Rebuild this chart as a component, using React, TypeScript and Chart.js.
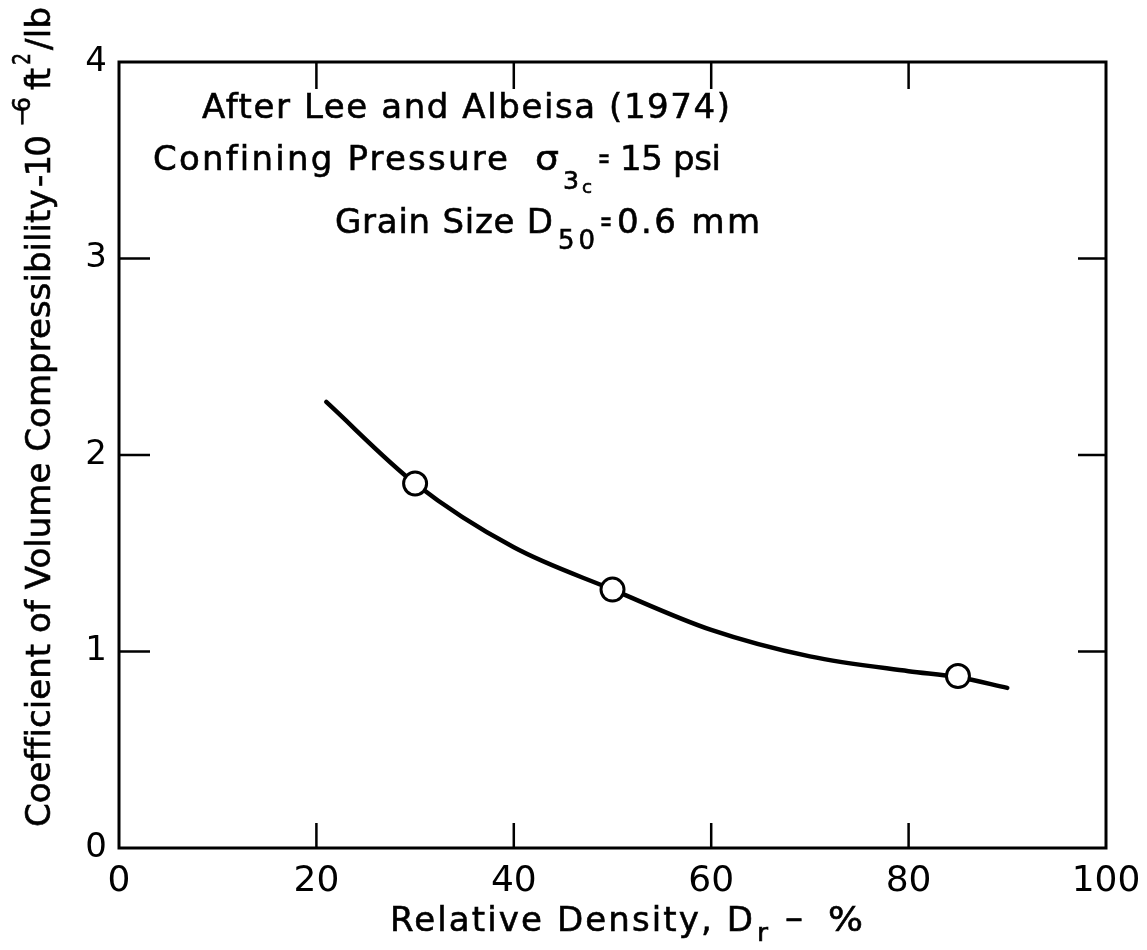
import React, { useEffect, useRef } from "react";
import { Chart, registerables } from "chart.js";

Chart.register(...registerables);

// ---- data ----
const curveX = [21, 30, 40, 50, 60, 70, 80, 85, 90];
const curveY = [2.27, 1.855, 1.53, 1.315, 1.11, 0.975, 0.9, 0.87, 0.815];
const pointX = [30, 50, 85];
const pointY = [1.855, 1.315, 0.875];
const xTickValues = [0, 20, 40, 60, 80, 100];
const yTickValues = [0, 1, 2, 3, 4];
const xInnerTicks = [20, 40, 60, 80];
const yInnerTicks = [1, 2, 3];

const FONT = '"DejaVu Sans", sans-serif';

type Seg = { t: string; x: number; y: number; size: number; w: number };

function drawFit(ctx: CanvasRenderingContext2D, s: Seg) {
  ctx.font = `${s.size}px ${FONT}`;
  (ctx as any).letterSpacing = "0px";
  const chars = Array.from(s.t).length;
  const w0 = ctx.measureText(s.t).width;
  ctx.lineWidth = 0.6;
  ctx.strokeStyle = "#000";
  if (chars > 1) {
    const ls = (s.w - w0) / (chars - 1);
    (ctx as any).letterSpacing = `${ls}px`;
    ctx.fillText(s.t, s.x, s.y);
    ctx.strokeText(s.t, s.x, s.y);
    (ctx as any).letterSpacing = "0px";
  } else {
    ctx.save();
    ctx.translate(s.x, s.y);
    ctx.scale(s.w / w0, 1);
    ctx.fillText(s.t, 0, 0);
    ctx.strokeText(s.t, 0, 0);
    ctx.restore();
  }
}

const annotations: Seg[] = [
  { t: "After Lee and Albeisa (1974)", x: 202, y: 118, size: 34, w: 528 },
  { t: "Confining Pressure", x: 153, y: 170, size: 34, w: 355 },
  { t: "σ", x: 535, y: 170, size: 34, w: 24 },
  { t: "3", x: 563, y: 189, size: 24, w: 16 },
  { t: "c", x: 582, y: 193, size: 18, w: 10 },
  { t: "=", x: 598, y: 168, size: 30, w: 12 },
  { t: "15 psi", x: 620, y: 170, size: 34, w: 101 },
  { t: "Grain Size D", x: 335, y: 233, size: 34, w: 218 },
  { t: "50", x: 558, y: 249, size: 26, w: 37 },
  { t: "=", x: 600, y: 231, size: 30, w: 12 },
  { t: "0.6 mm", x: 617, y: 233, size: 34, w: 143 },
];

const xTitle: Seg[] = [
  { t: "Relative Density, D", x: 390, y: 931, size: 34, w: 363 },
  { t: "r", x: 757, y: 941, size: 24, w: 11 },
  { t: "–", x: 785, y: 929, size: 34, w: 18 },
  { t: "%", x: 828, y: 931, size: 34, w: 35 },
];

// rotated frame: u along the text, baseline at v = 0
const yTitle: Seg[] = [
  { t: "Coefficient of Volume Compressibility", x: 0, y: 0, size: 34, w: 637 },
  { t: "-10", x: 640, y: 0, size: 34, w: 52 },
  { t: "−6", x: 700, y: -20, size: 24, w: 30 },
  { t: "ft", x: 737, y: 0, size: 34, w: 22 },
  { t: "2", x: 762, y: -20, size: 24, w: 12 },
  { t: "/lb", x: 777, y: 0, size: 34, w: 43 },
];

const framePlugin = {
  id: "frame",
  afterDatasetsDraw(chart: any) {
    const { ctx, chartArea: a, scales } = chart;
    const xs = scales.x;
    const ys = scales.y;
    ctx.save();
    ctx.strokeStyle = "#000";
    ctx.lineCap = "butt";
    ctx.lineWidth = 3;
    ctx.strokeRect(a.left, a.top, a.right - a.left, a.bottom - a.top);
    ctx.lineWidth = 2.5;
    ctx.beginPath();
    for (const v of xInnerTicks) {
      const px = xs.getPixelForValue(v);
      ctx.moveTo(px, a.bottom);
      ctx.lineTo(px, a.bottom - 25);
      ctx.moveTo(px, a.top);
      ctx.lineTo(px, a.top + 27);
    }
    for (const v of yInnerTicks) {
      const py = ys.getPixelForValue(v);
      ctx.moveTo(a.left, py);
      ctx.lineTo(a.left + 31, py);
      ctx.moveTo(a.right, py);
      ctx.lineTo(a.right - 28, py);
    }
    ctx.stroke();
    ctx.restore();
  },
  afterDraw(chart: any) {
    const { ctx } = chart;
    ctx.save();
    ctx.fillStyle = "#000";
    ctx.textAlign = "left";
    ctx.textBaseline = "alphabetic";
    for (const s of annotations) drawFit(ctx, s);
    for (const s of xTitle) drawFit(ctx, s);
    ctx.translate(50, 827);
    ctx.rotate(-Math.PI / 2);
    for (const s of yTitle) drawFit(ctx, s);
    ctx.restore();
  },
};

export default function App() {
  const ref = useRef<HTMLCanvasElement>(null);
  useEffect(() => {
    if (!ref.current) return;
    const chart = new Chart(ref.current, {
      type: "scatter",
      data: {
        datasets: [
          {
            label: "measured",
            data: pointX.map((x, i) => ({ x, y: pointY[i] })),
            pointRadius: 11.5,
            pointBorderWidth: 3,
            pointBackgroundColor: "#fff",
            pointBorderColor: "#000",
            showLine: false,
            order: 0,
          },
          {
            label: "curve",
            data: curveX.map((x, i) => ({ x, y: curveY[i] })),
            showLine: true,
            pointRadius: 0,
            borderColor: "#000",
            borderWidth: 4.5,
            borderCapStyle: "round",
            cubicInterpolationMode: "monotone",
            order: 1,
          },
        ],
      },
      plugins: [framePlugin],
      options: {
        animation: false,
        responsive: true,
        maintainAspectRatio: false,
        layout: { padding: { top: 62, right: 41, left: 0, bottom: 0 } },
        plugins: {
          legend: { display: false },
          tooltip: { enabled: false },
        },
        scales: {
          x: {
            type: "linear",
            min: 0,
            max: 100,
            afterBuildTicks: (s: any) => {
              s.ticks = xTickValues.map((v) => ({ value: v }));
            },
            afterFit: (s: any) => {
              s.height = 102;
              s.paddingLeft = 0;
              s.paddingRight = 0;
            },
            grid: { display: false, drawTicks: false },
            border: { display: false },
            ticks: {
              padding: 12,
              color: "#000",
              font: { family: FONT, size: 36 },
              maxRotation: 0,
              autoSkip: false,
            },
          },
          y: {
            type: "linear",
            min: 0,
            max: 4,
            afterBuildTicks: (s: any) => {
              s.ticks = yTickValues.map((v) => ({ value: v }));
            },
            afterFit: (s: any) => {
              s.width = 119;
              s.paddingTop = 0;
              s.paddingBottom = 0;
            },
            grid: { display: false, drawTicks: false },
            border: { display: false },
            ticks: {
              padding: 12,
              color: "#000",
              font: { family: FONT, size: 34 },
              autoSkip: false,
            },
          },
        },
      },
    } as any);
    return () => chart.destroy();
  }, []);
  return (
    <div style={{ position: "absolute", left: 0, top: 0, width: 1147, height: 950, background: "#fff" }}>
      <canvas ref={ref} />
    </div>
  );
}
